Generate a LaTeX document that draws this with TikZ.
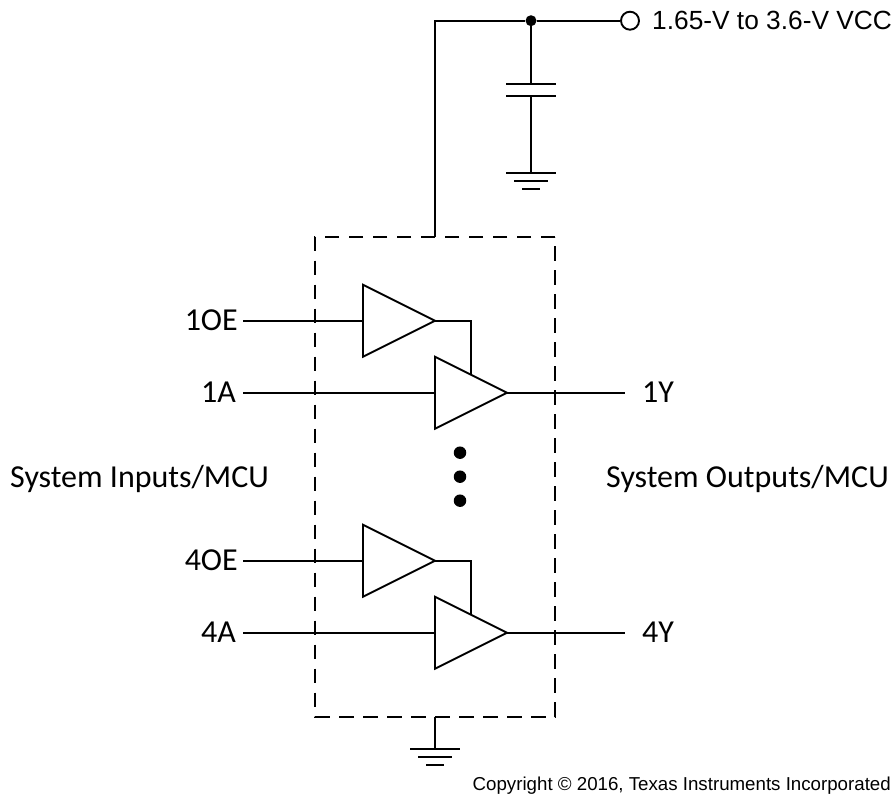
\documentclass[tikz,border=0pt]{standalone}
\usepackage{fontspec}
\setmainfont{Carlito}
\newfontfamily\arialfont{Liberation Sans}
\usetikzlibrary{shapes.geometric,positioning}
\tikzset{
	wire/.style={line width=1.9pt},
	bufgate/.style={draw, line width=1.9pt, isosceles triangle, isosceles triangle apex angle=53.13,
		minimum height=72pt, inner sep=0pt, outer sep=0pt, anchor=lower side},
	dashbox/.style={line width=1.9pt, dash pattern=on 14.5pt off 9.5pt},
	siglabel/.style={font=\fontsize{32}{32}\selectfont, inner sep=0pt},
	dotnode/.style={circle, fill=black, inner sep=0pt, minimum size=#1},
	plate/.style={line width=1.9pt},
}
\begin{document}
\begin{tikzpicture}[x=1pt,y=-1pt]
	\useasboundingbox (0,0) rectangle (896,799);

	% First the supply rail and the decoupling capacitor
	\coordinate (boxtop) at (435,236.7);
	\coordinate (railcorner) at (435,20.7);
	\node[dotnode=11pt] (railjoin) at (531,20.7) {};
	\node[circle, draw, line width=1.9pt, fill=white, inner sep=0pt, minimum size=18pt] (vccpin) at (630,20.7) {};
	\node[anchor=west, inner sep=0pt, font=\arialfont\fontsize{26.3}{26.3}\selectfont] (vcclabel) at (652,20.7) {1.65-V to 3.6-V VCC};
	\draw[wire] (boxtop) -- (railcorner) -- (railjoin) -- (vccpin);
	\coordinate (capup) at (531,83.7);
	\coordinate (capdown) at (531,95.7);
	\coordinate (capgnd) at (531,172.7);
	\draw[wire] (railjoin) -- (capup);
	\draw[wire] (capdown) -- (capgnd);
	\draw[plate] (506,83.7) -- (556,83.7);
	\draw[plate] (506,95.7) -- (556,95.7);
	\draw[plate] (506,172.7) -- (556,172.7);
	\draw[plate] (514,180.7) -- (548,180.7);
	\draw[plate] (522,188.7) -- (540,188.7);

	% Now the dashed device outline
	\draw[dashbox] (555,236.7) -- (315,236.7) -- (315,716.7) -- (555,716.7) -- cycle;

	% Now the first channel
	\node[bufgate] (oegateone) at (363,320.7) {};
	\node[bufgate] (bufone) at (435,392.7) {};
	\node[siglabel, anchor=east] (oelabelone) at (238,320.7) {1OE};
	\node[siglabel, anchor=east] (inlabelone) at (236,392.7) {1A};
	\node[siglabel, anchor=west] (outlabelone) at (642,392.7) {1Y};
	\coordinate (oestartone) at (243,320.7);
	\coordinate (instartone) at (243,392.7);
	\coordinate (outendone) at (625,392.7);
	\draw[wire] (oestartone) -- (oegateone.lower side);
	\draw[wire] (instartone) -- (bufone.lower side);
	\draw[wire] (oegateone.apex) -| (bufone.left side);
	\draw[wire] (bufone.apex) -- (outendone);

	% the three dots
	\node[dotnode=12.5pt] (dotone) at (460,452.7) {};
	\node[dotnode=12.5pt] (dottwo) at (460,476.7) {};
	\node[dotnode=12.5pt] (dotthree) at (460,500.7) {};

	% Now the fourth channel
	\node[bufgate] (oegatefour) at (363,560.7) {};
	\node[bufgate] (buffour) at (435,632.7) {};
	\node[siglabel, anchor=east] (oelabelfour) at (238,560.7) {4OE};
	\node[siglabel, anchor=east] (inlabelfour) at (236,632.7) {4A};
	\node[siglabel, anchor=west] (outlabelfour) at (642,632.7) {4Y};
	\coordinate (oestartfour) at (243,560.7);
	\coordinate (instartfour) at (243,632.7);
	\coordinate (outendfour) at (625,632.7);
	\draw[wire] (oestartfour) -- (oegatefour.lower side);
	\draw[wire] (instartfour) -- (buffour.lower side);
	\draw[wire] (oegatefour.apex) -| (buffour.left side);
	\draw[wire] (buffour.apex) -- (outendfour);

	% side labels
	\node[siglabel, anchor=west] (syslabelin) at (10,479) {System Inputs/MCU};
	\node[siglabel, anchor=west] (syslabelout) at (606,479) {System Outputs/MCU};

	% now the bottom ground
	\coordinate (boxbottom) at (435,716.7);
	\coordinate (gndtop) at (435,748.7);
	\draw[wire] (boxbottom) -- (gndtop);
	\draw[plate] (410,748.7) -- (460,748.7);
	\draw[plate] (418,756.7) -- (452,756.7);
	\draw[plate] (426,764.7) -- (444,764.7);

	\node[anchor=east, inner sep=0pt, font=\arialfont\fontsize{18.7}{18.7}\selectfont] (copyright) at (891,786) {Copyright © 2016, Texas Instruments Incorporated};
\end{tikzpicture}
\end{document}
